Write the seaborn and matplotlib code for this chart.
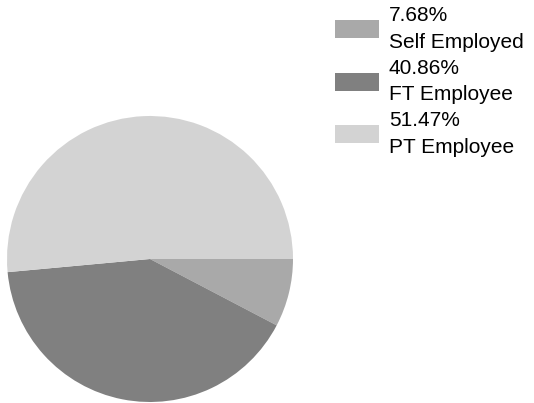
import matplotlib
matplotlib.use("Agg")
import matplotlib.pyplot as plt
import seaborn as sns
from matplotlib.patches import Patch

sns.set_theme(style="white")
plt.rcParams['font.family'] = ['Liberation Sans', 'DejaVu Sans']

categories = ["Self Employed", "FT Employee", "PT Employee"]
percents = [7.68, 40.86, 51.47]
colors = ["#a9a9a9", "#808080", "#d3d3d3"]

W, H = 534, 403
fig = plt.figure(figsize=(W / 100, H / 100), dpi=100)
fig.patch.set_facecolor("white")

# pie axes: circle center ~(150,259), radius ~143 px
cx, cy, r = 150, 259, 143
ax = fig.add_axes([(cx - r) / W, 1 - (cy + r) / H, 2 * r / W, 2 * r / H])
ax.pie(percents, colors=colors, startangle=0, counterclock=False,
       radius=1, wedgeprops=dict(linewidth=0))
ax.set_xlim(-1, 1)
ax.set_ylim(-1, 1)
ax.set_aspect("equal")
ax.axis("off")

handles = [Patch(facecolor=c, edgecolor="none") for c in colors]
labels = [f"{p:.2f}%\n{c}" for p, c in zip(percents, categories)]
leg = fig.legend(handles, labels, loc="upper left",
                 bbox_to_anchor=(335 / W, 1 - 6 / H),
                 frameon=False, fontsize=15, labelspacing=0.34,
                 handlelength=2.1, handleheight=0.95, handletextpad=0.48,
                 borderpad=0, borderaxespad=0)
for t in leg.get_texts():
    t.set_color("#000000")
    t.set_linespacing(1.5)

fig.savefig("out.png", dpi=100, facecolor="white")
